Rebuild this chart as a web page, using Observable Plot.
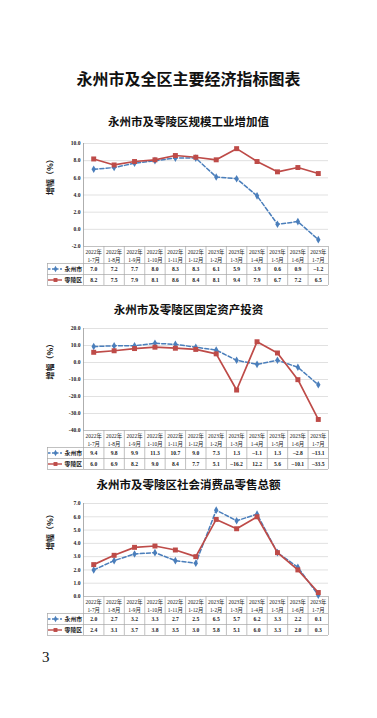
<!DOCTYPE html>
<html><head><meta charset="utf-8">
<script src="https://cdn.jsdelivr.net/npm/d3@7"></script>
<script src="https://cdn.jsdelivr.net/npm/@observablehq/plot@0.6"></script>
<style>
html,body{margin:0;padding:0;background:#fff;}
#page{position:relative;width:377px;height:718px;overflow:hidden;background:#fff;}
.t{position:absolute;left:0;width:377px;text-align:center;font-family:"Noto Sans CJK SC",sans-serif;font-weight:bold;color:#111;white-space:nowrap;line-height:1;}
.main{top:70px;font-size:16px;}
.sub{font-size:11.5px;}
#page svg{position:absolute;left:0;}
.pn{position:absolute;left:42px;top:650px;font-family:"Liberation Serif",serif;font-size:15px;color:#111;line-height:1;}
</style></head><body>
<div id="page">
  <div class="t main">永州市及全区主要经济指标图表</div>
  <div class="t sub" style="top:116px">永州市及零陵区规模工业增加值</div>
  <div class="t sub" style="top:304px">永州市及零陵区固定资产投资</div>
  <div class="t sub" style="top:479px">永州市及零陵区社会消费品零售总额</div>
  <div class="pn">3</div>
</div>
<script>
// categories
const catYears = ["2022年","2022年","2022年","2022年","2022年","2022年","2023年","2023年","2023年","2023年","2023年","2023年"];
const catMonths = ["1-7月","1-8月","1-9月","1-10月","1-11月","1-12月","1-2月","1-3月","1-4月","1-5月","1-6月","1-7月"];
const seriesNames = ["永州市","零陵区"];

// 规模工业增加值
const ind_yz = [7.0, 7.2, 7.7, 8.0, 8.3, 8.3, 6.1, 5.9, 3.9, 0.6, 0.9, -1.2];
const ind_ll = [8.2, 7.5, 7.9, 8.1, 8.6, 8.4, 8.1, 9.4, 7.9, 6.7, 7.2, 6.5];
const ind_ticks = [-2, 0, 2, 4, 6, 8, 10];

// 固定资产投资
const inv_yz = [9.4, 9.8, 9.9, 11.3, 10.7, 9.0, 7.3, 1.3, -1.1, 1.3, -2.8, -13.1];
const inv_ll = [6.0, 6.9, 8.2, 9.0, 8.4, 7.7, 5.1, -16.2, 12.2, 5.6, -10.1, -33.5];
const inv_ticks = [-40, -30, -20, -10, 0, 10, 20];

// 社会消费品零售总额
const ret_yz = [2.0, 2.7, 3.2, 3.3, 2.7, 2.5, 6.5, 5.7, 6.2, 3.3, 2.2, 0.1];
const ret_ll = [2.4, 3.1, 3.7, 3.8, 3.5, 3.0, 5.8, 5.1, 6.0, 3.3, 2.0, 0.3];
const ret_ticks = [0, 1, 2, 3, 4, 5, 6, 7];

const BLUE = "#4a7ebb", RED = "#be4b48", GRID = "#d9d9d9", TB = "#a6a6a6", INK = "#1a1a1a";
const SERIF = '"Liberation Serif","Noto Sans CJK SC",serif';
const CJK = '"Noto Sans CJK SC",sans-serif';

function chart(yz, ll, ticks, top, plotH) {
  const ymin = ticks[0], ymax = ticks[ticks.length - 1];
  const mt = 8, hdr = 17, row = 11, tb = hdr + 2 * row;
  const H = mt + plotH + tb + 4;
  const X = (d, i) => i;
  const Y0 = () => ymin;
  const L = () => -0.5;
  const fmt = v => (v < 0 ? "–" : "") + Math.abs(v).toFixed(1);
  const cols = d3.range(13).map(i => i - 0.5);
  const svg = Plot.plot({
    width: 377, height: H,
    marginLeft: 83, marginRight: 49, marginTop: mt, marginBottom: H - mt - plotH,
    x: {domain: [-0.5, 11.5], axis: null},
    y: {domain: [ymin, ymax], axis: null},
    style: {fontFamily: SERIF, background: "transparent", overflow: "visible", color: INK},
    marks: [
      Plot.gridY(ticks.slice(1), {stroke: GRID, strokeOpacity: 1, strokeWidth: 0.8}),
      // table frame
      Plot.ruleY([ymin], {stroke: TB, strokeWidth: 0.7}),
      Plot.ruleY([ymin], {dy: hdr, insetLeft: -36, stroke: TB, strokeWidth: 0.7}),
      Plot.ruleY([ymin], {dy: hdr + row, insetLeft: -36, stroke: TB, strokeWidth: 0.7}),
      Plot.ruleY([ymin], {dy: tb, insetLeft: -36, stroke: TB, strokeWidth: 0.7}),
      Plot.ruleX(cols, {x: d => d, y1: Y0, y2: Y0, insetBottom: -tb, stroke: TB, strokeWidth: 0.7}),
      Plot.ruleX([-0.5], {x: d => d, y1: Y0, y2: Y0, insetTop: hdr, insetBottom: -tb, dx: -36, stroke: TB, strokeWidth: 0.7}),
      Plot.ruleX([-0.5], {stroke: "#999", strokeWidth: 0.8}),
      // axis
      Plot.axisY(ticks, {tickSize: 0, tickPadding: 3, tickFormat: d => d.toFixed(1), fontSize: 5.6, fontWeight: "bold", fill: INK, label: null}),
      Plot.text(["增幅（%）"], {frameAnchor: "left", dx: -33, rotate: -90, fontSize: 8, fontWeight: "bold", fontFamily: CJK, fill: INK}),
      // series
      Plot.line(yz, {x: X, y: d => d, stroke: BLUE, strokeWidth: 1.5, strokeDasharray: "4,2.2"}),
      Plot.dot(yz, {x: X, y: d => d, symbol: "diamond", r: 2.3, fill: BLUE, stroke: "none"}),
      Plot.line(ll, {x: X, y: d => d, stroke: RED, strokeWidth: 1.7}),
      Plot.dot(ll, {x: X, y: d => d, symbol: "square", r: 2.8, fill: RED, stroke: "none"}),
      // table header
      Plot.text(catMonths, {x: X, y: Y0, text: (d, i) => catYears[i] + "\n" + d, lineAnchor: "top", dy: 2.5, lineHeight: 1.4, fontSize: 5.4, fill: INK}),
      // table values
      Plot.text(yz, {x: X, y: Y0, text: fmt, dy: hdr + row / 2, fontSize: 5.6, fontWeight: "bold", fill: INK}),
      Plot.text(ll, {x: X, y: Y0, text: fmt, dy: hdr + row * 1.5, fontSize: 5.6, fontWeight: "bold", fill: INK}),
      // legend cells
      Plot.ruleY([ymin], {x1: L, x2: L, dy: hdr + row / 2, insetLeft: -35, insetRight: 21, stroke: BLUE, strokeWidth: 1.3, strokeDasharray: "2.5,1.5"}),
      Plot.dot([0], {x: L, y: Y0, dx: -28, dy: hdr + row / 2, symbol: "diamond", r: 1.9, fill: BLUE, stroke: "none"}),
      Plot.ruleY([ymin], {x1: L, x2: L, dy: hdr + row * 1.5, insetLeft: -35, insetRight: 21, stroke: RED, strokeWidth: 1.4}),
      Plot.dot([0], {x: L, y: Y0, dx: -28, dy: hdr + row * 1.5, symbol: "square", r: 2.2, fill: RED, stroke: "none"}),
      Plot.text([seriesNames[0]], {x: L, y: Y0, dx: -1.5, dy: hdr + row / 2, textAnchor: "end", fontSize: 5.8, fontWeight: "bold", fontFamily: CJK, fill: INK}),
      Plot.text([seriesNames[1]], {x: L, y: Y0, dx: -1.5, dy: hdr + row * 1.5, textAnchor: "end", fontSize: 5.8, fontWeight: "bold", fontFamily: CJK, fill: INK})
    ]
  });
  svg.style.top = top + "px";
  document.getElementById("page").appendChild(svg);
}

chart(ind_yz, ind_ll, ind_ticks, 135, 103);
chart(inv_yz, inv_ll, inv_ticks, 320, 102);
chart(ret_yz, ret_ll, ret_ticks, 495, 93);
</script>
</body></html>
